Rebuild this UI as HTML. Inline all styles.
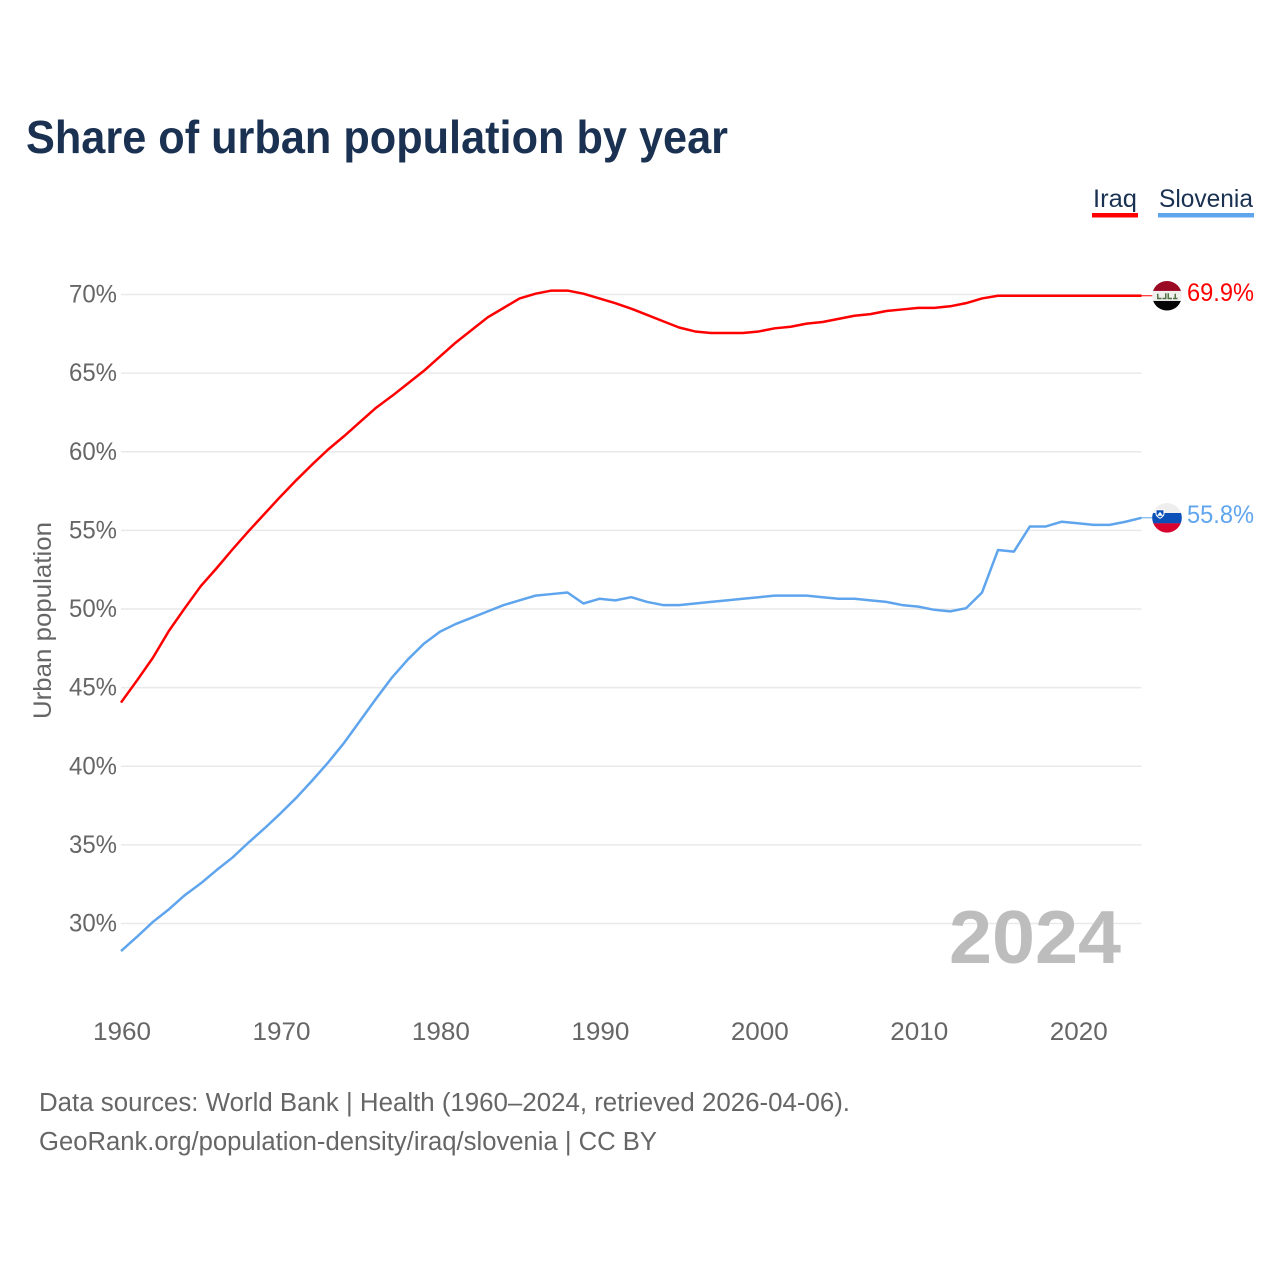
<!DOCTYPE html>
<html lang="en">
<head>
<meta charset="utf-8">
<title>Share of urban population by year</title>
<style>
html,body{margin:0;padding:0;background:#fff;width:1280px;height:1280px;overflow:hidden}
svg{display:block}
text{font-family:"Liberation Sans",sans-serif}
</style>
</head>
<body>
<svg id="chart" xmlns="http://www.w3.org/2000/svg" width="1280" height="1280" viewBox="0 0 1280 1280">
  <rect width="1280" height="1280" fill="#ffffff"/>
  <text x="26" y="153" font-size="46" font-weight="700" fill="#1a3152" textLength="702" lengthAdjust="spacingAndGlyphs">Share of urban population by year</text>

  <g>
    <g>
      <text x="1093" y="207" font-size="25" fill="#1a3152" textLength="44" lengthAdjust="spacingAndGlyphs">Iraq</text>
      <rect x="1092" y="213" width="46" height="4.5" fill="#ff0000"/>
    </g>
    <g>
      <text x="1159" y="207" font-size="25" fill="#1a3152" textLength="94" lengthAdjust="spacingAndGlyphs">Slovenia</text>
      <rect x="1158" y="213" width="96" height="4.5" fill="#5fa5ee"/>
    </g>
  </g>

  <g id="grid"></g>
  <g id="yticks"></g>
  <g id="xticks"></g>
  <text transform="translate(51,719) rotate(-90)" font-size="25" fill="#666666" textLength="197" lengthAdjust="spacingAndGlyphs">Urban population</text>

  <text x="949" y="963" font-size="75" font-weight="700" fill="#bdbdbd" textLength="172" lengthAdjust="spacingAndGlyphs">2024</text>

  <g id="series"></g>

  <defs>
    <clipPath id="flag-clip"><circle cx="0" cy="0" r="14.8"/></clipPath>
  </defs>
  <g id="flag-iraq">
    <g clip-path="url(#flag-clip)">
      <rect x="-15" y="-15" width="30" height="10.2" fill="#9b0a24"/>
      <rect x="-15" y="-4.8" width="30" height="10" fill="#f0f0ee"/>
      <rect x="-15" y="5.2" width="30" height="10" fill="#050505"/>
      <path d="M-10,3.500h4.500v-1.500h-3v-4h-1.500zM-4.500,3.500h4v-6h-1.500v4.500h-2.500zM0.500,3.500h4.500v-1.500h-3v-4.500h-1.500zM6,3.500h4.500v-1.500h-1.500v-4h-1.500v4h-1.500z" fill="#4f7442"/>
    </g>
  </g>
  <g id="flag-slovenia">
    <g clip-path="url(#flag-clip)">
      <rect x="-15" y="-15" width="30" height="10.300" fill="#eeeeee"/>
      <rect x="-15" y="-4.800" width="30" height="10.400" fill="#0b4fb8"/>
      <rect x="-15" y="5.500" width="30" height="10" fill="#d9032f"/>
      <path d="M-11,-8h8v4c0,2.500-2.500,3.500-4,4.500c-1.500,-1-4,-2-4,-4.500z" fill="#0b4fb8" stroke="#ffffff" stroke-width="1"/>
      <path d="M-10,-2l3,-4l3,4z" fill="#ffffff"/>
    </g>
  </g>

  <g>
    <text x="39" y="1111" font-size="25.500" fill="#666666" textLength="811" lengthAdjust="spacingAndGlyphs">Data sources: World Bank | Health (1960–2024, retrieved 2026-04-06).</text>
    <text x="39" y="1150" font-size="25.500" fill="#666666" textLength="618" lengthAdjust="spacingAndGlyphs">GeoRank.org/population-density/iraq/slovenia | CC BY</text>
  </g>
</svg>
<script>
const years = [1960,1961,1962,1963,1964,1965,1966,1967,1968,1969,1970,1971,1972,1973,1974,1975,1976,1977,1978,1979,1980,1981,1982,1983,1984,1985,1986,1987,1988,1989,1990,1991,1992,1993,1994,1995,1996,1997,1998,1999,2000,2001,2002,2003,2004,2005,2006,2007,2008,2009,2010,2011,2012,2013,2014,2015,2016,2017,2018,2019,2020,2021,2022,2023,2024];
const iraqValues = [44.05,45.45,46.9,48.6,50.05,51.45,52.6,53.8,54.95,56.05,57.15,58.2,59.2,60.15,61.0,61.9,62.8,63.55,64.35,65.15,66.05,66.95,67.75,68.55,69.15,69.75,70.05,70.25,70.25,70.05,69.75,69.45,69.1,68.7,68.3,67.9,67.65,67.55,67.55,67.55,67.65,67.85,67.95,68.15,68.25,68.45,68.65,68.75,68.95,69.05,69.15,69.15,69.25,69.45,69.75,69.92,69.92,69.92,69.92,69.92,69.92,69.92,69.92,69.92,69.92];
const sloveniaValues = [28.25,29.15,30.1,30.9,31.8,32.55,33.4,34.2,35.15,36.05,37.0,38.0,39.1,40.25,41.5,42.9,44.3,45.65,46.8,47.8,48.55,49.05,49.45,49.85,50.25,50.55,50.85,50.95,51.05,50.35,50.65,50.55,50.75,50.45,50.25,50.25,50.35,50.45,50.55,50.65,50.75,50.85,50.85,50.85,50.75,50.65,50.65,50.55,50.45,50.25,50.15,49.95,49.85,50.05,51.05,53.75,53.65,55.25,55.25,55.55,55.45,55.35,55.35,55.55,55.8];
const yTickValues = [30,35,40,45,50,55,60,65,70];
const xTickValues = [1960,1970,1980,1990,2000,2010,2020];

const NS = 'http://www.w3.org/2000/svg';
const plotLeft = 121, plotRight = 1141.5, y70 = 294.5, y30 = 923.5;
function xScale(year){ return plotLeft + (year - 1960) * (plotRight - plotLeft) / 64; }
function yScale(v){ return y30 + (v - 30) * (y70 - y30) / 40; }
function make(tag, attrs, parent){
  const el = document.createElementNS(NS, tag);
  for (const k in attrs) el.setAttribute(k, attrs[k]);
  parent.appendChild(el);
  return el;
}

const grid = document.getElementById('grid');
const yticks = document.getElementById('yticks');
const xticks = document.getElementById('xticks');
const series = document.getElementById('series');

yTickValues.forEach(function(v){
  const line = make('line', {x1: plotLeft, x2: plotRight, y1: yScale(v), y2: yScale(v), stroke: '#e9e9e9', 'stroke-width': 1.5}, grid);
  
  
  const t = make('text', {x: 117, y: yScale(v) + 8, 'text-anchor': 'end', 'font-size': 25, fill: '#666666', textLength: 48, lengthAdjust: 'spacingAndGlyphs'}, yticks);
  t.textContent = v + '%';
  
  
});

xTickValues.forEach(function(yr){
  const t = make('text', {x: xScale(yr) - 28, y: 1040, 'font-size': 25, fill: '#666666', textLength: 58, lengthAdjust: 'spacingAndGlyphs'}, xticks);
  t.textContent = String(yr);
  
  
});

function drawSeries(values, color, key, flagId){
  const pts = values.map(function(v, i){ return xScale(years[i]).toFixed(2) + ',' + yScale(v).toFixed(2); }).join(' ');
  const last = values[values.length - 1];
  const ly = yScale(last);
  const connector = make('line', {x1: plotRight, x2: 1153, y1: ly, y2: ly, stroke: color, 'stroke-width': 1}, series);
  
  
  const line = make('polyline', {points: pts, fill: 'none', stroke: color, 'stroke-width': 2.5, 'stroke-linejoin': 'round'}, series);
  
  
  const label = make('text', {x: 1187, y: ly + 5, 'font-size': 25, fill: color, textLength: 67, lengthAdjust: 'spacingAndGlyphs'}, series);
  label.textContent = last.toFixed(1) + '%';
  
  
  document.getElementById(flagId).setAttribute('transform', 'translate(1167,' + ly.toFixed(2) + ')');
}

drawSeries(iraqValues, '#ff0000', 'iraq', 'flag-iraq');
drawSeries(sloveniaValues, '#5fa5ee', 'slovenia', 'flag-slovenia');
</script>
</body>
</html>
